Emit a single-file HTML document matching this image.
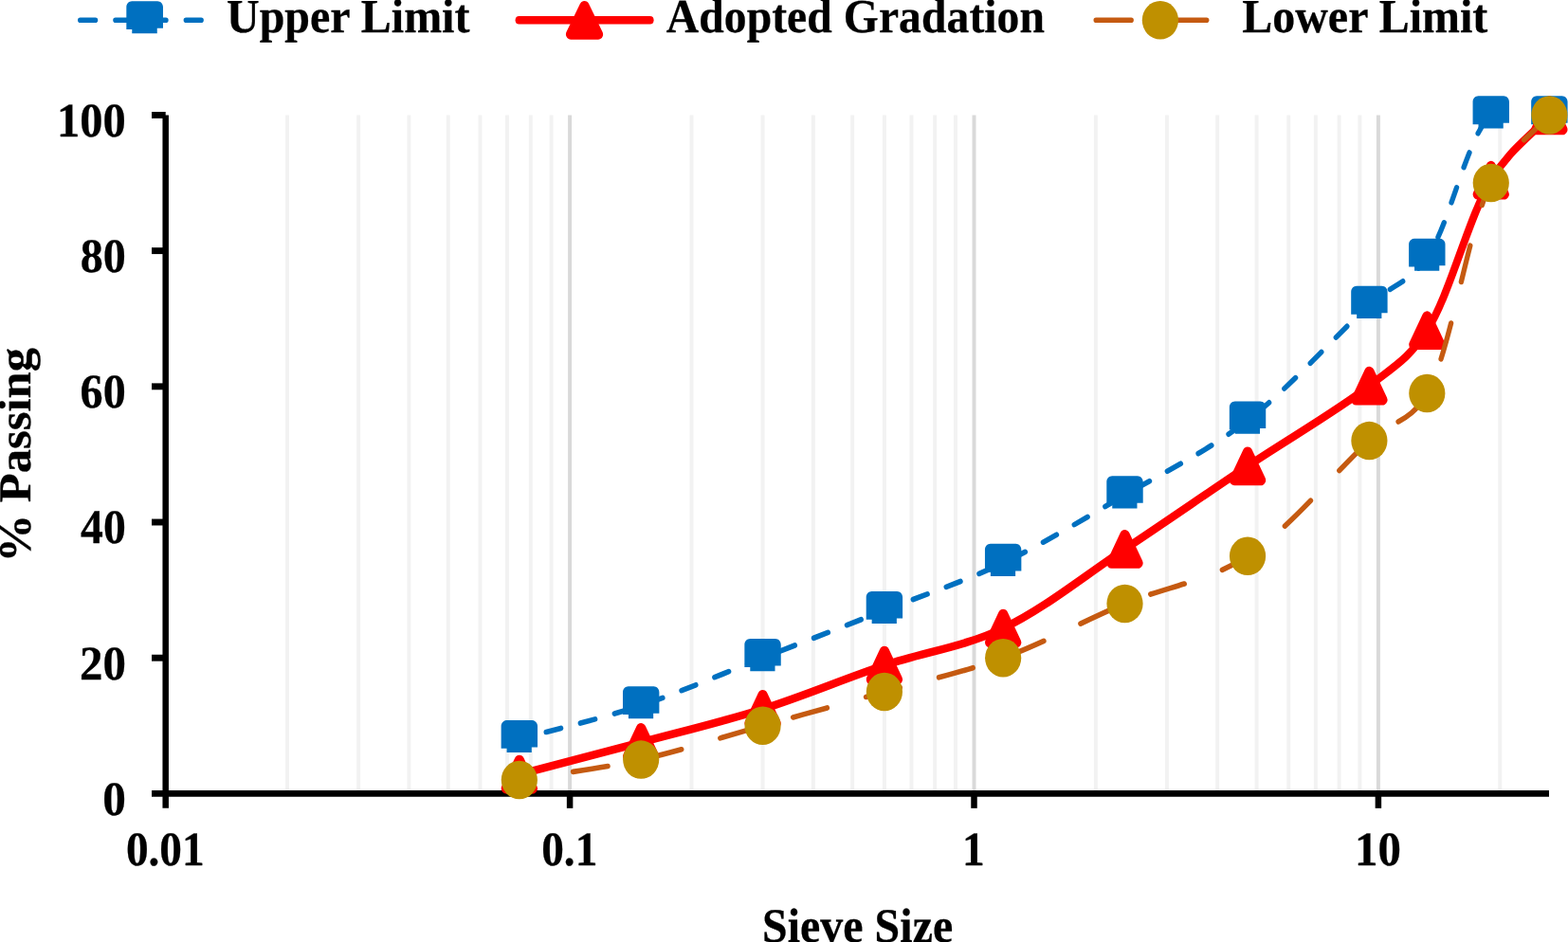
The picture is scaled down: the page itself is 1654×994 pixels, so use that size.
<!DOCTYPE html>
<html lang="en">
<head>
<meta charset="utf-8">
<title>Aggregate Gradation Chart</title>
<style>
html,body{margin:0;padding:0;background:#fff;}
body{width:1654px;height:994px;overflow:hidden;font-family:"Liberation Serif","Times New Roman",serif;}
svg{display:block;}
</style>
</head>
<body>
<svg width="1654" height="994" viewBox="0 0 1654 994">
<defs><clipPath id="plot"><rect x="185.26" y="120.95" width="1579.32" height="716.45"/></clipPath></defs>
<rect width="1654" height="994" fill="#fff"/>
<g stroke-width="3.96"><line x1="303.06" y1="121.45" x2="303.06" y2="837.40" stroke="#F2F2F2"/><line x1="378.14" y1="121.45" x2="378.14" y2="837.40" stroke="#F2F2F2"/><line x1="431.42" y1="121.45" x2="431.42" y2="837.40" stroke="#F2F2F2"/><line x1="472.74" y1="121.45" x2="472.74" y2="837.40" stroke="#F2F2F2"/><line x1="506.50" y1="121.45" x2="506.50" y2="837.40" stroke="#F2F2F2"/><line x1="535.05" y1="121.45" x2="535.05" y2="837.40" stroke="#F2F2F2"/><line x1="559.78" y1="121.45" x2="559.78" y2="837.40" stroke="#F2F2F2"/><line x1="581.59" y1="121.45" x2="581.59" y2="837.40" stroke="#F2F2F2"/><line x1="601.10" y1="121.45" x2="601.10" y2="837.40" stroke="#D9D9D9"/><line x1="729.46" y1="121.45" x2="729.46" y2="837.40" stroke="#F2F2F2"/><line x1="804.54" y1="121.45" x2="804.54" y2="837.40" stroke="#F2F2F2"/><line x1="857.82" y1="121.45" x2="857.82" y2="837.40" stroke="#F2F2F2"/><line x1="899.14" y1="121.45" x2="899.14" y2="837.40" stroke="#F2F2F2"/><line x1="932.90" y1="121.45" x2="932.90" y2="837.40" stroke="#F2F2F2"/><line x1="961.45" y1="121.45" x2="961.45" y2="837.40" stroke="#F2F2F2"/><line x1="986.18" y1="121.45" x2="986.18" y2="837.40" stroke="#F2F2F2"/><line x1="1007.99" y1="121.45" x2="1007.99" y2="837.40" stroke="#F2F2F2"/><line x1="1027.50" y1="121.45" x2="1027.50" y2="837.40" stroke="#D9D9D9"/><line x1="1155.86" y1="121.45" x2="1155.86" y2="837.40" stroke="#F2F2F2"/><line x1="1230.94" y1="121.45" x2="1230.94" y2="837.40" stroke="#F2F2F2"/><line x1="1284.22" y1="121.45" x2="1284.22" y2="837.40" stroke="#F2F2F2"/><line x1="1325.54" y1="121.45" x2="1325.54" y2="837.40" stroke="#F2F2F2"/><line x1="1359.30" y1="121.45" x2="1359.30" y2="837.40" stroke="#F2F2F2"/><line x1="1387.85" y1="121.45" x2="1387.85" y2="837.40" stroke="#F2F2F2"/><line x1="1412.58" y1="121.45" x2="1412.58" y2="837.40" stroke="#F2F2F2"/><line x1="1434.39" y1="121.45" x2="1434.39" y2="837.40" stroke="#F2F2F2"/><line x1="1453.90" y1="121.45" x2="1453.90" y2="837.40" stroke="#D9D9D9"/><line x1="1582.26" y1="121.45" x2="1582.26" y2="837.40" stroke="#F2F2F2"/></g>
<g stroke="#000" fill="none">
<line x1="174.70" y1="121.45" x2="174.70" y2="852.85" stroke-width="6.50"/>
<line x1="160.00" y1="837.40" x2="1634.00" y2="837.40" stroke-width="6.90"/>
<line x1="160.00" y1="694.21" x2="174.70" y2="694.21" stroke-width="6.90"/>
<line x1="160.00" y1="551.02" x2="174.70" y2="551.02" stroke-width="6.90"/>
<line x1="160.00" y1="407.83" x2="174.70" y2="407.83" stroke-width="6.90"/>
<line x1="160.00" y1="264.64" x2="174.70" y2="264.64" stroke-width="6.90"/>
<line x1="160.00" y1="121.45" x2="174.70" y2="121.45" stroke-width="6.90"/>
<line x1="601.10" y1="837.40" x2="601.10" y2="852.85" stroke-width="6.50"/>
<line x1="1027.50" y1="837.40" x2="1027.50" y2="852.85" stroke-width="6.50"/>
<line x1="1453.90" y1="837.40" x2="1453.90" y2="852.85" stroke-width="6.50"/>
</g>
<g font-family="'Liberation Serif', 'Times New Roman', serif" font-weight="bold" fill="#000" stroke="#000" stroke-width="2.4" stroke-linejoin="round" text-rendering="geometricPrecision">
<text transform="translate(108.26,860.00) scale(0.12077,0.12500)" font-size="407.2">0</text>
<text transform="translate(83.92,717.00) scale(0.12012,0.12500)" font-size="407.2">20</text>
<text transform="translate(85.10,573.00) scale(0.11710,0.12500)" font-size="407.2">40</text>
<text transform="translate(84.61,430.00) scale(0.11835,0.12500)" font-size="407.2">60</text>
<text transform="translate(84.74,287.00) scale(0.11804,0.12500)" font-size="407.2">80</text>
<text transform="translate(59.91,144.00) scale(0.11937,0.12500)" font-size="407.2">100</text>
<text transform="translate(132.93,913.20) scale(0.11598,0.12500)" font-size="407.2">0.01</text>
<text transform="translate(571.13,913.20) scale(0.11623,0.12500)" font-size="407.2">0.1</text>
<text transform="translate(1015.01,913.20) scale(0.11627,0.12500)" font-size="407.2">1</text>
<text transform="translate(1429.08,913.20) scale(0.12022,0.12500)" font-size="407.2">10</text>
<text transform="translate(803.98,993.50) scale(0.11764,0.12500)" font-size="408.0">Sieve Size</text>
<text transform="translate(32.40,593.39) rotate(-90) scale(0.12574,0.12037)" font-size="402.4">% Passing</text>
<text transform="translate(239.00,34.40) scale(0.11927,0.12500)" font-size="402.4">Upper Limit</text>
<text transform="translate(702.72,34.20) scale(0.11865,0.12500)" font-size="402.4">Adopted Gradation</text>
<text transform="translate(1310.16,34.40) scale(0.11932,0.12500)" font-size="402.4">Lower Limit</text>
</g>
<g transform="scale(0.9430,1)">
<g clip-path="url(#plot)"><path d="M580.94,780.12 C626.31,768.19 671.89,758.56 717.06,744.33 C762.64,729.96 807.80,710.92 853.18,694.21 C898.55,677.50 944.33,660.85 989.29,644.09 C1033.97,627.44 1077.83,613.94 1122.11,593.98 C1167.47,573.53 1212.85,547.32 1258.23,522.38 C1304.01,497.22 1350.94,476.05 1395.59,443.63 C1442.20,409.78 1496.40,351.67 1531.71,321.92 C1559.45,298.53 1575.79,299.13 1596.30,271.80 C1621.70,237.97 1641.14,143.02 1667.83,121.45 C1687.98,105.16 1711.38,121.45 1733.16,121.45" fill="none" stroke="#0070C0" stroke-width="5.64" stroke-linecap="round" stroke-dasharray="16.90 22.55" stroke-dashoffset="-30.99"/></g>
<g fill="#0070C0"><path d="M560.58,789.87 L560.58,766.17 C560.58,762.76 563.37,759.97 566.78,759.97 L595.10,759.97 C598.51,759.97 601.30,762.76 601.30,766.17 L601.30,788.52 L594.70,788.52 L594.70,794.12 L566.88,794.12 L566.88,789.87 Z"/><path d="M696.70,754.08 L696.70,730.38 C696.70,726.97 699.49,724.18 702.90,724.18 L731.22,724.18 C734.63,724.18 737.42,726.97 737.42,730.38 L737.42,752.73 L730.82,752.73 L730.82,758.33 L703.00,758.33 L703.00,754.08 Z"/><path d="M832.82,703.96 L832.82,680.26 C832.82,676.85 835.61,674.06 839.02,674.06 L867.34,674.06 C870.75,674.06 873.54,676.85 873.54,680.26 L873.54,702.61 L866.94,702.61 L866.94,708.21 L839.12,708.21 L839.12,703.96 Z"/><path d="M968.93,653.84 L968.93,630.14 C968.93,626.73 971.72,623.94 975.13,623.94 L1003.45,623.94 C1006.86,623.94 1009.65,626.73 1009.65,630.14 L1009.65,652.49 L1003.05,652.49 L1003.05,658.09 L975.23,658.09 L975.23,653.84 Z"/><path d="M1101.75,603.73 L1101.75,580.03 C1101.75,576.62 1104.54,573.83 1107.95,573.83 L1136.27,573.83 C1139.68,573.83 1142.47,576.62 1142.47,580.03 L1142.47,602.38 L1135.87,602.38 L1135.87,607.98 L1108.05,607.98 L1108.05,603.73 Z"/><path d="M1237.87,532.13 L1237.87,508.43 C1237.87,505.02 1240.66,502.23 1244.07,502.23 L1272.39,502.23 C1275.80,502.23 1278.59,505.02 1278.59,508.43 L1278.59,530.78 L1271.99,530.78 L1271.99,536.38 L1244.17,536.38 L1244.17,532.13 Z"/><path d="M1375.23,453.38 L1375.23,429.68 C1375.23,426.27 1378.02,423.48 1381.43,423.48 L1409.75,423.48 C1413.16,423.48 1415.95,426.27 1415.95,429.68 L1415.95,452.03 L1409.35,452.03 L1409.35,457.63 L1381.53,457.63 L1381.53,453.38 Z"/><path d="M1511.35,331.67 L1511.35,307.97 C1511.35,304.56 1514.14,301.77 1517.55,301.77 L1545.87,301.77 C1549.28,301.77 1552.07,304.56 1552.07,307.97 L1552.07,330.32 L1545.47,330.32 L1545.47,335.92 L1517.65,335.92 L1517.65,331.67 Z"/><path d="M1575.94,281.55 L1575.94,257.85 C1575.94,254.44 1578.73,251.65 1582.14,251.65 L1610.46,251.65 C1613.87,251.65 1616.66,254.44 1616.66,257.85 L1616.66,280.20 L1610.06,280.20 L1610.06,285.80 L1582.24,285.80 L1582.24,281.55 Z"/><path d="M1647.47,131.20 L1647.47,107.50 C1647.47,104.09 1650.26,101.30 1653.67,101.30 L1681.99,101.30 C1685.40,101.30 1688.19,104.09 1688.19,107.50 L1688.19,129.85 L1681.59,129.85 L1681.59,135.45 L1653.77,135.45 L1653.77,131.20 Z"/><path d="M1712.80,131.20 L1712.80,107.50 C1712.80,104.09 1715.59,101.30 1719.00,101.30 L1747.32,101.30 C1750.73,101.30 1753.52,104.09 1753.52,107.50 L1753.52,129.85 L1746.92,129.85 L1746.92,135.45 L1719.10,135.45 L1719.10,131.20 Z"/></g>
<g clip-path="url(#plot)"><path d="M580.94,817.07 C626.31,805.83 671.70,794.81 717.06,783.35 C762.45,771.87 807.95,761.75 853.18,748.26 C898.70,734.69 944.22,716.36 989.29,702.09 C1033.86,687.97 1078.23,682.71 1122.11,662.99 C1167.91,642.41 1212.78,607.82 1258.23,579.37 C1303.94,550.76 1349.90,520.59 1395.59,491.81 C1441.06,463.17 1496.99,432.70 1531.71,407.11 C1560.62,385.81 1575.74,378.69 1596.30,348.69 C1621.61,311.78 1642.73,229.12 1667.83,190.18 C1688.73,157.75 1711.38,144.60 1733.16,121.81" fill="none" stroke="#FF0000" stroke-width="8.46" stroke-linecap="round" stroke-linejoin="round"/></g>
<g fill="#FF0000" stroke="#FF0000" stroke-width="11.00" stroke-linejoin="round"><path d="M580.94,802.27 L595.74,831.97 L566.14,831.97 Z"/><path d="M717.06,768.55 L731.86,798.25 L702.26,798.25 Z"/><path d="M853.18,733.46 L867.98,763.16 L838.38,763.16 Z"/><path d="M989.29,687.29 L1004.09,716.99 L974.49,716.99 Z"/><path d="M1122.11,648.19 L1136.91,677.89 L1107.31,677.89 Z"/><path d="M1258.23,564.57 L1273.03,594.27 L1243.43,594.27 Z"/><path d="M1395.59,477.01 L1410.39,506.71 L1380.79,506.71 Z"/><path d="M1531.71,392.31 L1546.51,422.01 L1516.91,422.01 Z"/><path d="M1596.30,333.89 L1611.10,363.59 L1581.50,363.59 Z"/><path d="M1667.83,175.38 L1682.63,205.08 L1653.03,205.08 Z"/><path d="M1733.16,107.01 L1747.96,136.71 L1718.36,136.71 Z"/></g>
<g clip-path="url(#plot)"><path d="M580.94,823.08 C626.31,815.92 671.83,811.10 717.06,801.60 C762.58,792.04 807.80,777.74 853.18,765.80 C898.55,753.87 944.32,741.98 989.29,730.01 C1033.96,718.12 1077.77,709.49 1122.11,694.21 C1167.41,678.61 1212.58,654.86 1258.23,636.93 C1303.74,619.07 1351.42,613.79 1395.59,586.82 C1442.81,557.98 1496.40,494.86 1531.71,465.11 C1559.45,441.72 1576.51,447.44 1596.30,414.99 C1623.41,370.54 1641.44,242.75 1667.83,193.05 C1688.10,154.85 1711.38,145.32 1733.16,121.45" fill="none" stroke="#C55A11" stroke-width="5.64" stroke-linecap="round" stroke-dasharray="39.32 44.98" stroke-dashoffset="-60.71"/></g>
<g fill="#BF9000"><circle cx="580.94" cy="823.08" r="20.25"/><circle cx="717.06" cy="801.60" r="20.25"/><circle cx="853.18" cy="765.80" r="20.25"/><circle cx="989.29" cy="730.01" r="20.25"/><circle cx="1122.11" cy="694.21" r="20.25"/><circle cx="1258.23" cy="636.93" r="20.25"/><circle cx="1395.59" cy="586.82" r="20.25"/><circle cx="1531.71" cy="465.11" r="20.25"/><circle cx="1596.30" cy="414.99" r="20.25"/><circle cx="1667.83" cy="193.05" r="20.25"/><circle cx="1733.16" cy="121.45" r="20.25"/></g>
<path d="M86.96,21.20 H236.48" fill="none" stroke="#0070C0" stroke-width="5.64" stroke-linecap="round" stroke-dasharray="16.90 22.55" stroke-dashoffset="-2.82"/>
<path d="M141.38,31.05 L141.38,7.35 C141.38,3.94 144.17,1.15 147.58,1.15 L176.18,1.15 C179.59,1.15 182.38,3.94 182.38,7.35 L182.38,29.70 L175.78,29.70 L175.78,35.30 L147.68,35.30 L147.68,31.05 Z" fill="#0070C0"/>
<path d="M580.69,21.20 H727.05" fill="none" stroke="#FF0000" stroke-width="8.46" stroke-linecap="round"/>
<path d="M653.76,6.50 L669.06,36.20 L638.46,36.20 Z" fill="#FF0000" stroke="#FF0000" stroke-width="11.00" stroke-linejoin="round"/>
<path d="M1223.22,21.20 H1367.97" fill="none" stroke="#C55A11" stroke-width="5.64" stroke-linecap="round" stroke-dasharray="39.32 44.98" stroke-dashoffset="-2.82"/>
<circle cx="1297.88" cy="21.30" r="20.3" fill="#BF9000"/>
</g>
</svg>
</body>
</html>
